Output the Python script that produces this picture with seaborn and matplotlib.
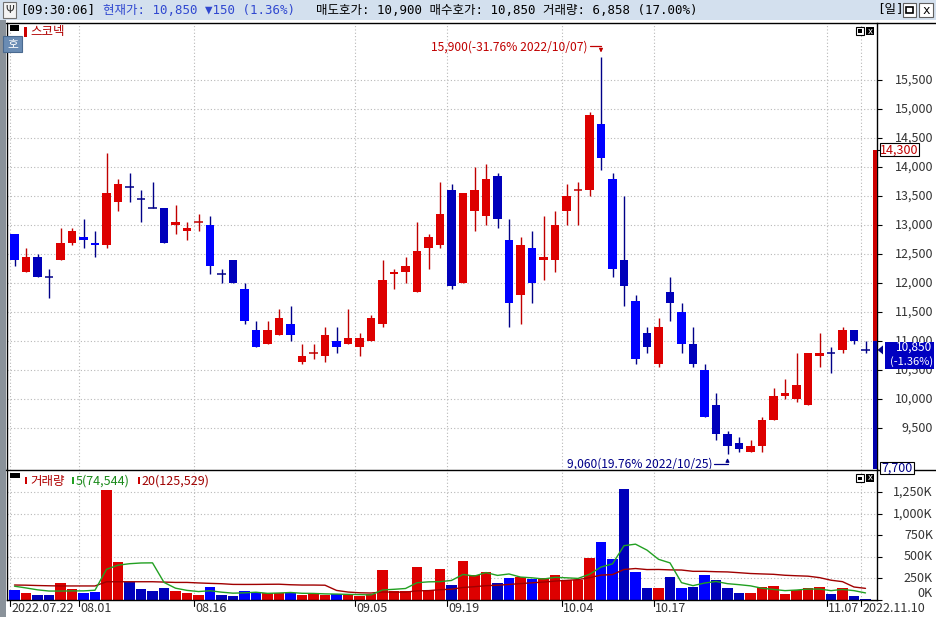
import numpy as np
import pandas as pd
import matplotlib
matplotlib.use("Agg")
import matplotlib.pyplot as plt
import matplotlib.transforms as mtransforms
from matplotlib.patches import Rectangle, Polygon
from matplotlib.lines import Line2D
import seaborn as sns

# 1. settings
sns.set_theme(style="white")
plt.rcParams["font.family"] = ["Noto Sans CJK KR", "DejaVu Sans"]
plt.rcParams["axes.unicode_minus"] = False

RED = "#dd0000"
RED_LINE = "#c00000"
BLUE = "#0000ff"
BLUE_DARK = "#0000bb"
NAVY = "#000088"
GRID = "#b8b8b8"
GREEN = "#22a022"
MAROON = "#a00000"
TXT = "#333333"
HEADER_BG = "#d3e0ee"

# 2. data (daily candles, 2022-07-22 .. 2022-11-10)
stock_name = "스코넥"
clock = "09:30:06"
start_day, end_day = "2022-07-22", "2022-11-10"
holidays = ["2022-08-15", "2022-09-09", "2022-09-12", "2022-10-03", "2022-10-10"]

opens = [12850, 12200, 12450, 12100, 12400, 12700, 12800, 12700, 12650, 13400,
         13650, 13450, 13300, 13300, 13000, 12900, 13050, 13000, 12150, 12400,
         11900, 11200, 10950, 11100, 11300, 10650, 10800, 10750, 11000, 10950,
         10900, 11000, 11300, 12150, 12200, 11850, 12600, 12650, 13600, 12000,
         13250, 13150, 13850, 12750, 11800, 12600, 12400, 12400, 13250, 13600,
         13600, 14750, 13800, 12400, 11700, 11150, 10600, 11850, 11500, 10950,
         10500, 9900, 9400, 9250, 9100, 9200, 9650, 10050, 10000, 9900,
         10750, 10800, 10850, 11200, 10850]
highs = [12850, 12600, 12500, 12250, 12950, 12950, 13100, 12900, 14250, 13800,
         13900, 13600, 13750, 13300, 13350, 13050, 13200, 13150, 12250, 12400,
         12000, 11350, 11350, 11550, 11600, 10950, 10950, 11250, 11250, 11550,
         11150, 11450, 12400, 12250, 12450, 13050, 12850, 13750, 13700, 13550,
         14000, 14050, 13900, 13100, 12800, 12900, 13150, 13250, 13700, 13750,
         14950, 15900, 13900, 13500, 11800, 11250, 11400, 12100, 11650, 11250,
         10600, 10100, 9450, 9350, 9300, 9700, 10200, 10350, 10800, 10800,
         11150, 10900, 11250, 11200, 11000]
lows = [12300, 12200, 12100, 11750, 12400, 12650, 12600, 12450, 12600, 13250,
        13400, 13050, 13300, 12700, 12850, 12750, 12900, 12150, 12000, 12000,
        11300, 10900, 10950, 11100, 11000, 10600, 10700, 10650, 10800, 10950,
        10750, 11000, 11250, 11900, 12000, 11850, 12250, 12600, 11900, 12000,
        12900, 13000, 12950, 11250, 11300, 11650, 12050, 12200, 13000, 13000,
        13500, 13950, 12100, 11600, 10600, 10800, 10550, 11350, 10800, 10550,
        9700, 9300, 9060, 9100, 9100, 9100, 9650, 10000, 9950, 9900,
        10550, 10450, 10800, 10950, 10800]
closes = [12400, 12450, 12100, 12100, 12700, 12900, 12750, 12650, 13550, 13700,
          13650, 13450, 13300, 12700, 13050, 12950, 13050, 12300, 12150, 12000,
          11350, 10900, 11200, 11400, 11100, 10750, 10800, 11100, 10900, 11050,
          11050, 11400, 12050, 12200, 12300, 12550, 12800, 13200, 11950, 13550,
          13600, 13800, 13100, 11650, 12650, 12000, 12450, 13000, 13500, 13600,
          14900, 14150, 12250, 11950, 10700, 10900, 11250, 11650, 10950, 10600,
          9700, 9400, 9200, 9150, 9200, 9650, 10050, 10100, 10250, 10800,
          10800, 10800, 11200, 11000, 10850]
volume_k = [116, 85, 58, 58, 201, 127, 85, 96, 1273, 440,
            212, 127, 104, 139, 104, 85, 58, 150, 58, 46,
            104, 93, 85, 77, 77, 58, 85, 58, 66, 58,
            46, 66, 347, 104, 104, 382, 116, 359, 174, 451,
            289, 320, 193, 258, 270, 247, 251, 289, 231, 235,
            486, 671, 475, 1285, 324, 139, 139, 266, 139, 150,
            289, 231, 139, 81, 81, 150, 162, 69, 116, 139,
            150, 69, 139, 46, 6.858]
# moving-average values shown before a full window of days exists
ma5_lead_k = [160, 140, 118, 104]
ma20_lead_k = [174, 172, 168, 165, 163, 163, 163, 163, 212, 212,
               212, 212, 212, 208, 204, 204, 198, 193, 189]

prev_close = 11000
upper_limit, lower_limit = 14300, 7700
ask_price, bid_price = 10900, 10850
day_volume, day_volume_ratio = 6858, 17.00
legend_ma5, legend_ma20 = 74544, 125529

price_ticks = list(range(9500, 16000, 500))
volume_ticks = [0, 250000, 500000, 750000, 1000000, 1250000]
date_tick_idx = [0, 6, 16, 30, 38, 48, 56, 71, 74]

# 3. derived series
dates = pd.bdate_range(start_day, end_day).drop(pd.to_datetime(holidays))
idx = np.arange(len(closes))
o, hi, lo, c = (np.array(a, dtype=float) for a in (opens, highs, lows, closes))
vol = np.array(volume_k) * 1000
prev = np.r_[np.nan, c[:-1]]
doji = c == o
up = (c > o) | (doji & (c > prev))
dark = ~up & ((o >= prev) | doji)
tone = np.where(up, "up", np.where(dark, "down_dark", "down"))
body_col = {"up": RED, "down": BLUE, "down_dark": BLUE_DARK}
line_col = {"up": RED_LINE, "down": NAVY, "down_dark": NAVY}

vs = pd.Series(vol)
ma5 = vs.rolling(5).mean()
ma5.iloc[:len(ma5_lead_k)] = np.array(ma5_lead_k) * 1000
ma20 = vs.rolling(20).mean()
ma20.iloc[:len(ma20_lead_k)] = np.array(ma20_lead_k) * 1000

# 4. figure geometry (pixels)
W, H = 936, 617


def fx(px):
    return px / W


def fy(py):
    return 1 - py / H


def prect(x0, y0, w, h, **kw):
    return Rectangle((fx(x0), fy(y0 + h)), w / W, h / H, transform=fig.transFigure, **kw)


fig = plt.figure(figsize=(W / 100, H / 100), dpi=100, facecolor="white")
ax_p = fig.add_axes([fx(7), fy(469.5), fx(876.7) - fx(7), fy(23) - fy(469.5)])
ax_v = fig.add_axes([fx(7), fy(600), fx(876.7) - fx(7), fy(469.5) - fy(600)])
xlim = (-7.5 / 11.5, 862.2 / 11.5)

# --- candles ---
ax_p.vlines(idx, lo, hi, colors=[line_col[t] for t in tone], lw=1.0, zorder=2)
b = ~doji
ax_p.bar(idx[b], np.abs(c - o)[b], bottom=np.minimum(o, c)[b], width=0.78,
         color=[body_col[t] for t in tone[b]], lw=0, zorder=3)
ax_p.hlines(c[doji], idx[doji] - 0.39, idx[doji] + 0.39,
            colors=[line_col[t] for t in tone[doji]], lw=1.1, zorder=3)

# limit-range bar at right edge
ax_p.bar([74.8], [upper_limit - prev_close], bottom=[prev_close], width=0.35, color="#cc0000", lw=0, zorder=3)
ax_p.bar([74.8], [prev_close - lower_limit], bottom=[lower_limit], width=0.35, color="#0000aa", lw=0, zorder=3)

# --- volume ---
vdf = pd.DataFrame({"idx": idx, "vol": vol, "tone": tone})
sns.barplot(data=vdf, x="idx", y="vol", hue="tone", palette=body_col, dodge=False,
            native_scale=True, width=0.87, saturation=1, errorbar=None, legend=False,
            linewidth=0, ax=ax_v, zorder=2)
sns.lineplot(x=idx, y=ma20.values, color=MAROON, lw=1.0, ax=ax_v, zorder=4)
sns.lineplot(x=idx, y=ma5.values, color=GREEN, lw=1.0, ax=ax_v, zorder=5)

# --- axes styling ---
for ax in (ax_p, ax_v):
    ax.set_xlim(*xlim)
    ax.set_xlabel("")
    ax.set_ylabel("")
    ax.set_xticks([])
    ax.set_facecolor("white")
    for s in ("left", "right"):
        ax.spines[s].set_visible(True)
        ax.spines[s].set_color("black")
        ax.spines[s].set_linewidth(1.0)
    ax.spines["top"].set_visible(False)
    ax.yaxis.set_ticks_position("right")
    ax.tick_params(axis="y", right=True, left=False, length=3.5, width=0.8, color="black",
                   labelright=False, labelleft=False, direction="out")
    for i in date_tick_idx:
        ax.axvline(i - 0.39, color=GRID, lw=0.8, ls=(0, (1, 2)), zorder=0)
ax_p.spines["bottom"].set_visible(False)
ax_v.spines["bottom"].set_visible(True)
ax_v.spines["bottom"].set_color("black")
ax_v.spines["bottom"].set_linewidth(1.0)

ax_p.set_ylim(8790, 16482)
ax_v.set_ylim(0, 1514600)
ax_p.set_yticks(price_ticks)
ax_v.set_yticks(volume_ticks)
for t in price_ticks:
    ax_p.axhline(t, color=GRID, lw=0.8, ls=(0, (1, 2)), zorder=0)
for t in volume_ticks[1:]:
    ax_v.axhline(t, color=GRID, lw=0.8, ls=(0, (1, 2)), zorder=0)

# right tick labels (right aligned)
tp = mtransforms.blended_transform_factory(fig.transFigure, ax_p.transData)
tv = mtransforms.blended_transform_factory(fig.transFigure, ax_v.transData)
for t in price_ticks:
    ax_p.text(fx(933), t, f"{t:,}", transform=tp, ha="right", va="center", fontsize=9, color=TXT)
for t in volume_ticks:
    # the zero label sits a little above its tick so it clears the date row
    ax_v.text(fx(933), t + (70000 if t == 0 else 0), f"{t // 1000:,}K", transform=tv,
              ha="right", va="center", fontsize=9, color=TXT)

# date labels
tx = mtransforms.blended_transform_factory(ax_v.transData, fig.transFigure)
for k, i in enumerate(date_tick_idx):
    fmt = "%Y.%m.%d" if k in (0, len(date_tick_idx) - 1) else "%m.%d"
    ax_v.text(i - 0.39 + 0.1, fy(609), dates[i].strftime(fmt), transform=tx,
              ha="left", va="center", fontsize=9, color=TXT)
    ax_v.add_line(Line2D([i - 0.39, i - 0.39], [fy(600), fy(606)], transform=tx,
                         color="black", lw=0.8, clip_on=False))

# --- high / low annotations ---
cur = c[-1]
i_hi, i_lo = int(np.argmax(hi)), int(np.argmin(lo))
v_hi, v_lo = hi[i_hi], lo[i_lo]
ax_p.text(i_hi - 1.17, v_hi + 170,
          f"{int(v_hi):,}({(cur - v_hi) / v_hi * 100:.2f}% {dates[i_hi]:%Y/%m/%d})",
          ha="right", va="center", fontsize=8.7, color=RED_LINE)
ax_p.plot([i_hi - 1.0, i_hi], [v_hi + 180, v_hi + 180], color=RED_LINE, lw=0.9)
ax_p.annotate("", xy=(i_hi, v_hi + 25), xytext=(i_hi, v_hi + 180),
              arrowprops=dict(arrowstyle="-|>", color=RED_LINE, lw=0.9, mutation_scale=5))
ax_p.text(i_lo - 1.3, v_lo - 175,
          f"{int(v_lo):,}({(cur - v_lo) / v_lo * 100:.2f}% {dates[i_lo]:%Y/%m/%d})",
          ha="right", va="center", fontsize=8.7, color=NAVY)
ax_p.plot([i_lo - 1.15, i_lo], [v_lo - 175, v_lo - 175], color=NAVY, lw=0.9)
ax_p.annotate("", xy=(i_lo, v_lo - 25), xytext=(i_lo, v_lo - 175),
              arrowprops=dict(arrowstyle="-|>", color=NAVY, lw=0.9, mutation_scale=5))

# --- right side price boxes ---
k = 1 / 0.05805  # won per pixel
ax_p.add_patch(Rectangle((fx(880), upper_limit - 6.5 * k), fx(919) - fx(880), 13 * k, transform=tp,
                         fc="white", ec="black", lw=0.8, zorder=6, clip_on=False))
ax_p.text(fx(899.5), upper_limit, f"{upper_limit:,}", transform=tp, ha="center", va="center",
          fontsize=9, color=RED_LINE, zorder=7)
ax_p.add_line(Line2D([fx(876.7), fx(880)], [upper_limit, upper_limit], transform=tp, color="black", lw=0.8, clip_on=False))

chg = cur - prev_close
pct = chg / prev_close * 100
ax_p.add_patch(Rectangle((fx(885), cur - 19 * k), fx(934) - fx(885), 27 * k, transform=tp,
                         fc="#0000c0", ec="#0000c0", lw=0, zorder=6, clip_on=False))
ax_p.text(fx(932), cur + 2.5 * k, f"{int(cur):,}", transform=tp, ha="right", va="center",
          fontsize=8.5, color="white", zorder=7)
ax_p.text(fx(933), cur - 11.5 * k, f"({pct:.2f}%)", transform=tp, ha="right", va="center",
          fontsize=8, color="white", zorder=7)
ax_p.add_patch(Polygon([(fx(877.5), cur), (fx(883), cur + 4.5 * k), (fx(883), cur - 4.5 * k)],
                       closed=True, transform=tp, fc=NAVY, ec="none", zorder=7, clip_on=False))

fig.add_artist(prect(880, 462, 34, 12, fc="white", ec="black", lw=0.8, zorder=6))
fig.text(fx(897), fy(468), f"{lower_limit:,}", ha="center", va="center", fontsize=9, color=NAVY, zorder=7)

# --- frame decorations ---
fig.add_artist(prect(0, 0, 936, 20, fc=HEADER_BG, lw=0, zorder=0))
fig.add_artist(prect(0, 20, 6, 597, fc="#8a929a", lw=0, zorder=0))
for ypx in (23, 469.5):
    fig.add_artist(Line2D([fx(6), 1], [fy(ypx), fy(ypx)], transform=fig.transFigure, color="black", lw=1.0))

# header
mono = ["DejaVu Sans Mono", "Noto Sans CJK KR"]
fig.add_artist(prect(3, 2, 13, 16, fc="#f4f4f4", ec="#707070", lw=0.8))
fig.text(fx(9.5), fy(10), "Ψ", ha="center", va="center", fontsize=8, color="#333333", family=["DejaVu Sans"])
fig.text(fx(20), fy(10), f"[{clock}]", ha="left", va="center", fontsize=9, color="black", family=mono)
arrow = "▼" if chg < 0 else "▲"
fig.text(fx(103), fy(10), f"현재가: {int(cur):,} {arrow}{abs(int(chg))} ({abs(pct):.2f}%)",
         ha="left", va="center", fontsize=9, color="#3048d0", family=mono)
fig.text(fx(316), fy(10),
         f"매도호가: {ask_price:,} 매수호가: {bid_price:,} 거래량: {day_volume:,} ({day_volume_ratio:.2f}%)",
         ha="left", va="center", fontsize=9, color="black", family=mono)
fig.text(fx(877), fy(10), "[일]", ha="left", va="center", fontsize=9, color="black", family=mono)
fig.add_artist(prect(903, 3, 13, 14, fc="white", ec="#606060", lw=0.8))
fig.add_artist(prect(906, 7, 7, 6, fc="white", ec="black", lw=1.2))
fig.add_artist(prect(919, 3, 14, 14, fc="white", ec="#606060", lw=0.8))
fig.text(fx(926), fy(10), "x", ha="center", va="center", fontsize=9, color="black", family=mono)

# panel captions
fig.add_artist(prect(10, 25, 9, 6, fc="black", lw=0))
fig.add_artist(prect(24, 27, 2.5, 10, fc="#cc0000", lw=0))
fig.text(fx(30), fy(32), stock_name, ha="left", va="center", fontsize=9, color="#b00000")
fig.add_artist(prect(3, 36, 19, 16, fc="#6a8cb4", ec="#4a6a90", lw=0.8, zorder=5))
fig.text(fx(12.5), fy(44), "호", ha="center", va="center", fontsize=8.5, color="white", zorder=6)

fig.add_artist(prect(10, 473, 10, 5, fc="black", lw=0))
fig.add_artist(prect(25, 477, 2, 7, fc="#cc0000", lw=0))
fig.text(fx(30), fy(481), "거래량", ha="left", va="center", fontsize=9, color="#b00000")
fig.add_artist(prect(72, 477, 2, 7, fc=GREEN, lw=0))
fig.text(fx(76), fy(481), f"5({legend_ma5:,})", ha="left", va="center", fontsize=9, color="#1a8a1a")
fig.add_artist(prect(138, 477, 2, 7, fc="#cc0000", lw=0))
fig.text(fx(141), fy(481), f"20({legend_ma20:,})", ha="left", va="center", fontsize=9, color=MAROON)

for ytop in (27, 474):
    fig.add_artist(prect(856, ytop, 8, 8, fc="white", ec="black", lw=0.8))
    fig.add_artist(prect(858, ytop + 2.5, 4, 3, fc="black", lw=0))
    fig.add_artist(prect(866, ytop, 8, 8, fc="black", lw=0))
    fig.text(fx(870), fy(ytop + 4), "x", ha="center", va="center", fontsize=6, color="white",
             family=["DejaVu Sans"])

plt.savefig("out.png", dpi=100, facecolor="white")
